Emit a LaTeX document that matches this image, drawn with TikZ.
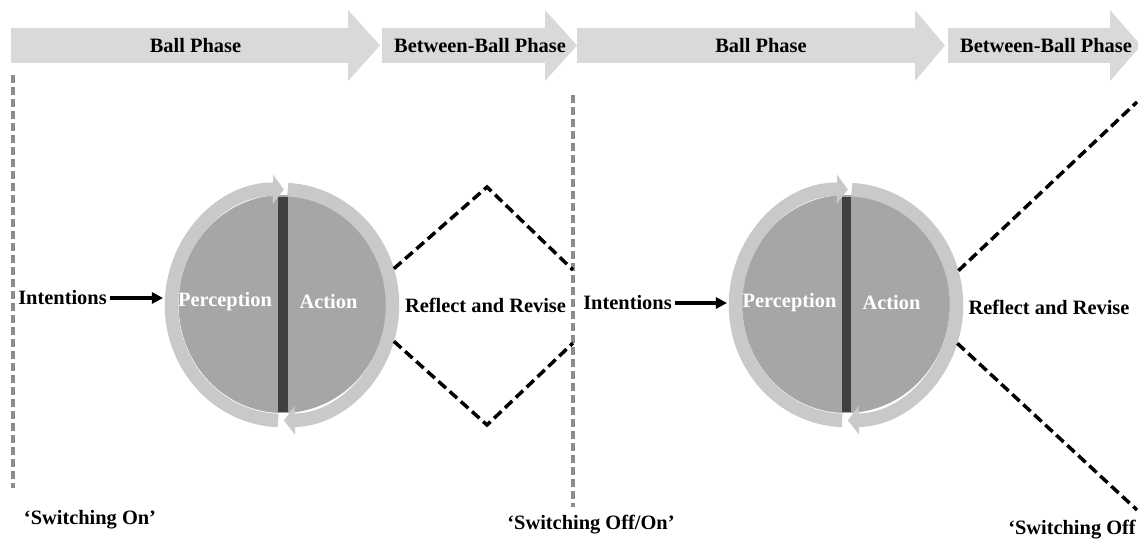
\documentclass[tikz,border=0pt]{standalone}
\usepackage{fontspec}
\setmainfont{Liberation Serif}
\usetikzlibrary{arrows.meta,shapes.geometric}
\definecolor{phasegray}{HTML}{D9D9D9}
\definecolor{ringgray}{HTML}{C9C9C9}
\definecolor{cellgray}{HTML}{A6A6A6}
\definecolor{bargray}{HTML}{404040}
\definecolor{switchgray}{HTML}{8C8C8C}

\begin{document}
\begin{tikzpicture}[x=1pt, y=1pt, font=\bfseries\fontsize{20.4}{24}\selectfont,
    phase/.style = {fill=phasegray},
    switch/.style = {switchgray, line width=3.5pt, dash pattern=on 8pt off 4pt},
    reflect/.style = {black, line width=3.5pt, dash pattern=on 10pt off 5pt},
    ring/.style = {ringgray, line width=13.5pt, -{Triangle[width=29pt, length=11pt, line width=0pt]}},
    intent/.style = {line width=3.5pt, shorten >=2pt, -{Triangle[width=12pt, length=11pt, line width=0pt]}},
    cyc/.style = {ellipse, minimum width=234pt, minimum height=244pt, inner sep=0pt}]

    \useasboundingbox (0,0) rectangle (1138,543);

    % phases
    \fill[phase] (11,480) -- (348,480) -- (348,462) -- (380,497.5) -- (348,533) -- (348,515) -- (11,515) -- cycle;
    \fill[phase] (382,480) -- (545,480) -- (545,462) -- (577,497.5) -- (545,533) -- (545,515) -- (382,515) -- cycle;
    \fill[phase] (577,480) -- (915,480) -- (915,462) -- (945,497.5) -- (915,533) -- (915,515) -- (577,515) -- cycle;
    \fill[phase] (948,480) -- (1110,480) -- (1110,462) -- (1141,497.5) -- (1110,533) -- (1110,515) -- (948,515) -- cycle;
    \node (bp1) at (195.5,497.5) {Ball Phase};
    \node (bbp1) at (480,497.5) {Between-Ball Phase};
    \node (bp2) at (761,497.5) {Ball Phase};
    \node (bbp2) at (1046,497.5) {Between-Ball Phase};

    % switching
    \draw[switch] (13,468) -- (13,55);
    \draw[switch] (573,448) -- (573,36);
    \node (son) at (90,23) {‘Switching On’};
    \node (soffon) at (591,18) {‘Switching Off/On’};
    \node (soff) at (1072,13) {‘Switching Off};

    % cycle 1
    \node[cyc] (cyc1) at (282,238) {};
    \fill[cellgray] (282.5,239) ellipse [x radius=104, y radius=109];
    \draw[ring] (cyc1.center) ++(268:110.5 and 115.5) arc[start angle=268, end angle=89, x radius=110.5, y radius=115.5];
    \draw[ring] (cyc1.center) ++(87:110.5 and 115.5) arc[start angle=87, end angle=-89, x radius=110.5, y radius=115.5];
    \fill[bargray] (278,131) rectangle (288,346);
    \node[white] (per1) at (225,241) {Perception};
    \node[white] (act1) at (328.5,241) {Action};

    % cycle 2
    \node[cyc] (cyc2) at (846,238) {};
    \fill[cellgray] (846,239) ellipse [x radius=104, y radius=109];
    \draw[ring] (cyc2.center) ++(268:110.5 and 115.5) arc[start angle=268, end angle=89, x radius=110.5, y radius=115.5];
    \draw[ring] (cyc2.center) ++(87:110.5 and 115.5) arc[start angle=87, end angle=-89, x radius=110.5, y radius=115.5];
    \fill[bargray] (842,131) rectangle (851,346);
    \node[white] (per2) at (789.5,240) {Perception};
    \node[white] (act2) at (891.5,240) {Action};

    % intentions
    \node (int1) at (62.5,245) {Intentions};
    \node (int2) at (627.5,240) {Intentions};
    \draw[intent] (int1.east) -- (int1.east -| cyc1.west);
    \draw[intent] (int2.east) -- (int2.east -| cyc2.west);

    % reflect and revise
    \coordinate (rtop1) at (487,356);
    \coordinate (rbot1) at (487,118);
    \coordinate (rtopend1) at (573,273);
    \coordinate (rbotend1) at (573,200);
    \coordinate (rtopend2) at (1137,441);
    \coordinate (rbotend2) at (1137,33);
    \node (rr1) at (485.5,238) {Reflect and Revise};
    \node (rr2) at (1049,236) {Reflect and Revise};
    \draw[reflect] (cyc1.18) -- (rtop1) -- (rtopend1);
    \draw[reflect] (cyc1.-18) -- (rbot1) -- (rbotend1);
    \draw[reflect] (cyc2.17) -- (rtopend2);
    \draw[reflect] (cyc2.-19) -- (rbotend2);

\end{tikzpicture}
\end{document}
